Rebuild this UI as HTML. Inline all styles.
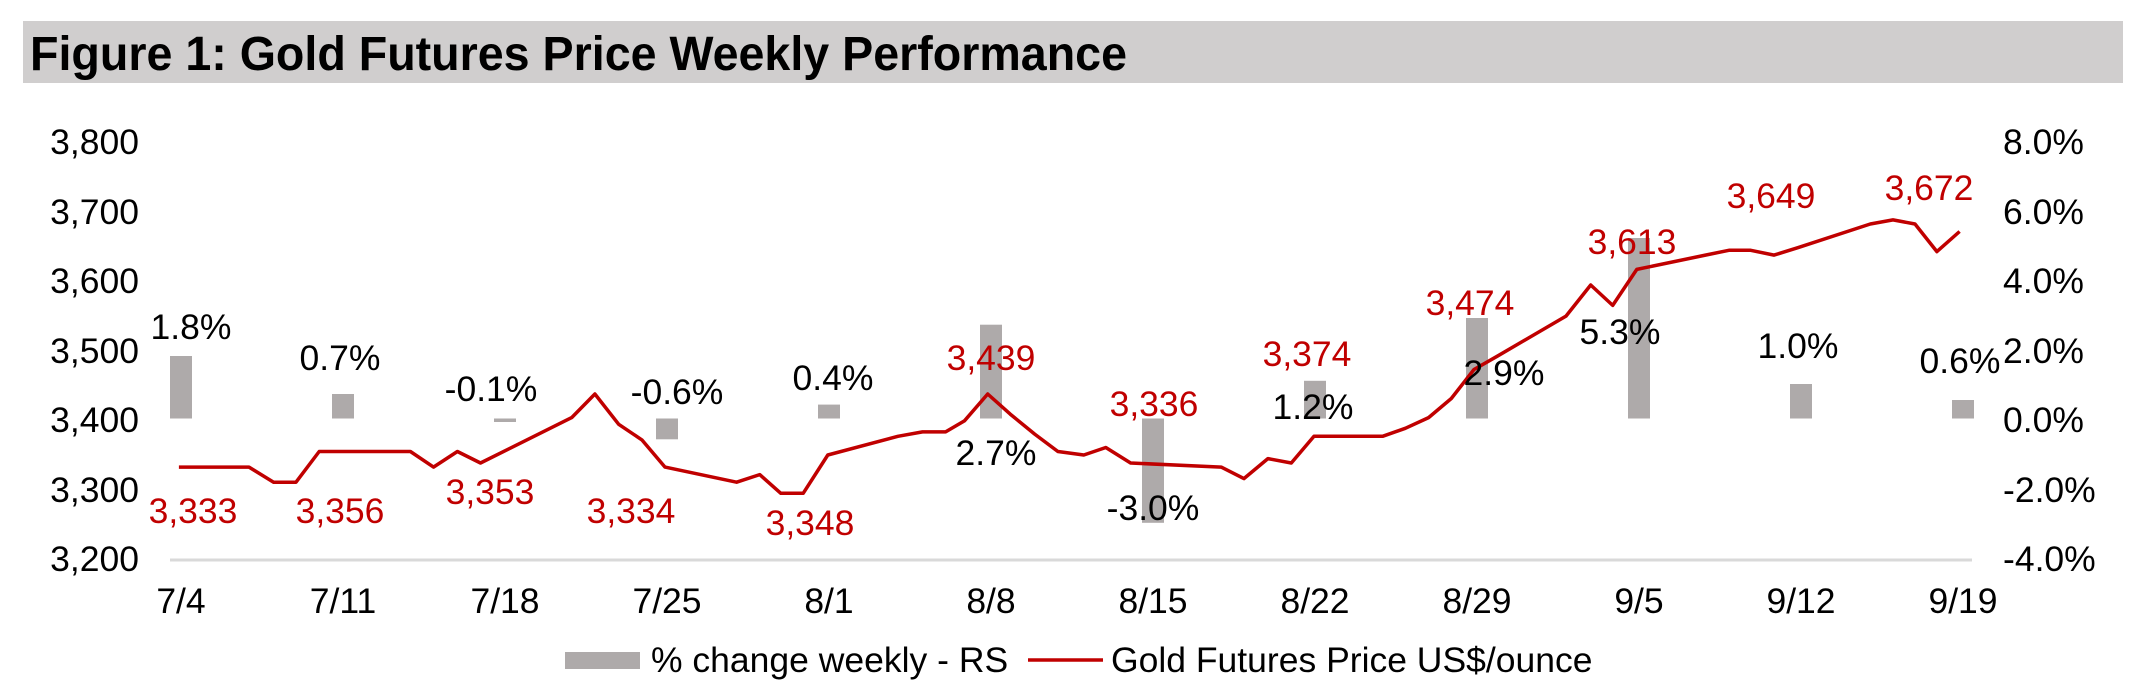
<!DOCTYPE html>
<html><head><meta charset="utf-8"><style>
html,body{margin:0;padding:0;background:#fff;}
svg{display:block;font-family:"Liberation Sans",Arial,sans-serif;}
</style></head><body>
<svg width="2154" height="698" viewBox="0 0 2154 698" xmlns="http://www.w3.org/2000/svg">
<rect x="23" y="21" width="2100" height="62" fill="#d0cece"/>
<text x="30" y="70" font-size="48" font-weight="bold" fill="#000" textLength="1097" lengthAdjust="spacingAndGlyphs">Figure 1: Gold Futures Price Weekly Performance</text>
<g font-size="35.5" fill="#000" text-anchor="end" dominant-baseline="central">
<text x="139" y="142">3,800</text><text x="139" y="212">3,700</text><text x="139" y="281">3,600</text>
<text x="139" y="351">3,500</text><text x="139" y="420">3,400</text><text x="139" y="490">3,300</text><text x="139" y="559">3,200</text>
</g>
<g font-size="35.5" fill="#000" dominant-baseline="central">
<text x="2003" y="142">8.0%</text><text x="2003" y="212">6.0%</text><text x="2003" y="281">4.0%</text>
<text x="2003" y="351">2.0%</text><text x="2003" y="420">0.0%</text><text x="2003" y="490">-2.0%</text><text x="2003" y="559">-4.0%</text>
</g>
<line x1="170" y1="560" x2="1972" y2="560" stroke="#d9d9d9" stroke-width="3"/>
<g font-size="35.5" fill="#000" text-anchor="middle" dominant-baseline="central">
<text x="181" y="601">7/4</text><text x="343" y="601">7/11</text><text x="505" y="601">7/18</text><text x="667" y="601">7/25</text>
<text x="829" y="601">8/1</text><text x="991" y="601">8/8</text><text x="1153" y="601">8/15</text><text x="1315" y="601">8/22</text>
<text x="1477" y="601">8/29</text><text x="1639" y="601">9/5</text><text x="1801" y="601">9/12</text><text x="1963" y="601">9/19</text>
</g>
<g fill="#aeaaaa">
<rect x="170" y="356" width="22" height="62.5"/>
<rect x="332" y="394" width="22" height="24.5"/>
<rect x="494" y="418.5" width="22" height="3.5"/>
<rect x="656" y="418.5" width="22" height="20.8"/>
<rect x="818" y="404.6" width="22" height="13.9"/>
<rect x="980" y="324.7" width="22" height="93.8"/>
<rect x="1142" y="418.5" width="22" height="104.3"/>
<rect x="1304" y="380.8" width="22" height="37.7"/>
<rect x="1466" y="318" width="22" height="100.5"/>
<rect x="1628" y="238" width="22" height="180.5"/>
<rect x="1790" y="384" width="22" height="34.5"/>
<rect x="1952" y="400" width="22" height="18.5"/>
</g>
<polyline fill="none" stroke="#c00000" stroke-width="3.5" stroke-linejoin="round" points="178.9,467.1 249,467.1 273.6,482.2 296,482.2 319.2,451.5 410.4,451.5 433.5,467.1 457.4,451.5 480.5,463 571.7,417.6 594.9,394 618.7,424.3 641.9,439.9 665,467.1 736.6,482.2 759.7,474.6 780.8,493.3 803.2,493.3 827.8,455 897.9,436.3 922.5,431.9 945.6,431.9 964.6,420.7 987.7,394 1010.2,414.1 1034.7,434.1 1057.9,451.5 1083.8,455 1105.8,447.5 1130.6,463 1221.2,467.1 1243.9,478.6 1267.9,458.6 1291.3,463 1314,436.3 1382.6,436.3 1405.3,428.3 1428.6,417.6 1451.3,398.5 1474,369.5 1497.3,356.2 1566,316.1 1590.7,285 1612.7,305.4 1636.8,269.4 1705.4,255.1 1729.5,250.2 1750.1,250.2 1774.1,255.1 1798.2,247.6 1870.3,224 1893,219.9 1915,224 1936.9,251.6 1959.6,231.5"/>
<g font-size="35.5" fill="#c00000" text-anchor="middle" dominant-baseline="central">
<text x="193" y="511">3,333</text><text x="340" y="511">3,356</text><text x="490" y="492">3,353</text>
<text x="631" y="511">3,334</text><text x="810" y="523">3,348</text><text x="991" y="358">3,439</text>
<text x="1154" y="404">3,336</text><text x="1307" y="354">3,374</text><text x="1470" y="303">3,474</text>
<text x="1632" y="242">3,613</text><text x="1771" y="196">3,649</text><text x="1929" y="188">3,672</text>
</g>
<g font-size="35.5" fill="#000" text-anchor="middle" dominant-baseline="central">
<text x="191" y="327">1.8%</text><text x="340" y="358">0.7%</text><text x="491" y="389">-0.1%</text>
<text x="677" y="392">-0.6%</text><text x="833" y="378">0.4%</text><text x="996" y="453">2.7%</text>
<text x="1153" y="508">-3.0%</text><text x="1313" y="407">1.2%</text><text x="1504" y="373">2.9%</text>
<text x="1620" y="332">5.3%</text><text x="1798" y="346">1.0%</text><text x="1960" y="361">0.6%</text>
</g>
<rect x="565" y="652" width="75" height="17" fill="#aeaaaa"/>
<text x="651" y="660" font-size="35.5" dominant-baseline="central">% change weekly - RS</text>
<line x1="1028" y1="660" x2="1103" y2="660" stroke="#c00000" stroke-width="3.5"/>
<text x="1111" y="660" font-size="35.5" dominant-baseline="central">Gold Futures Price US$/ounce</text>
</svg>
</body></html>
